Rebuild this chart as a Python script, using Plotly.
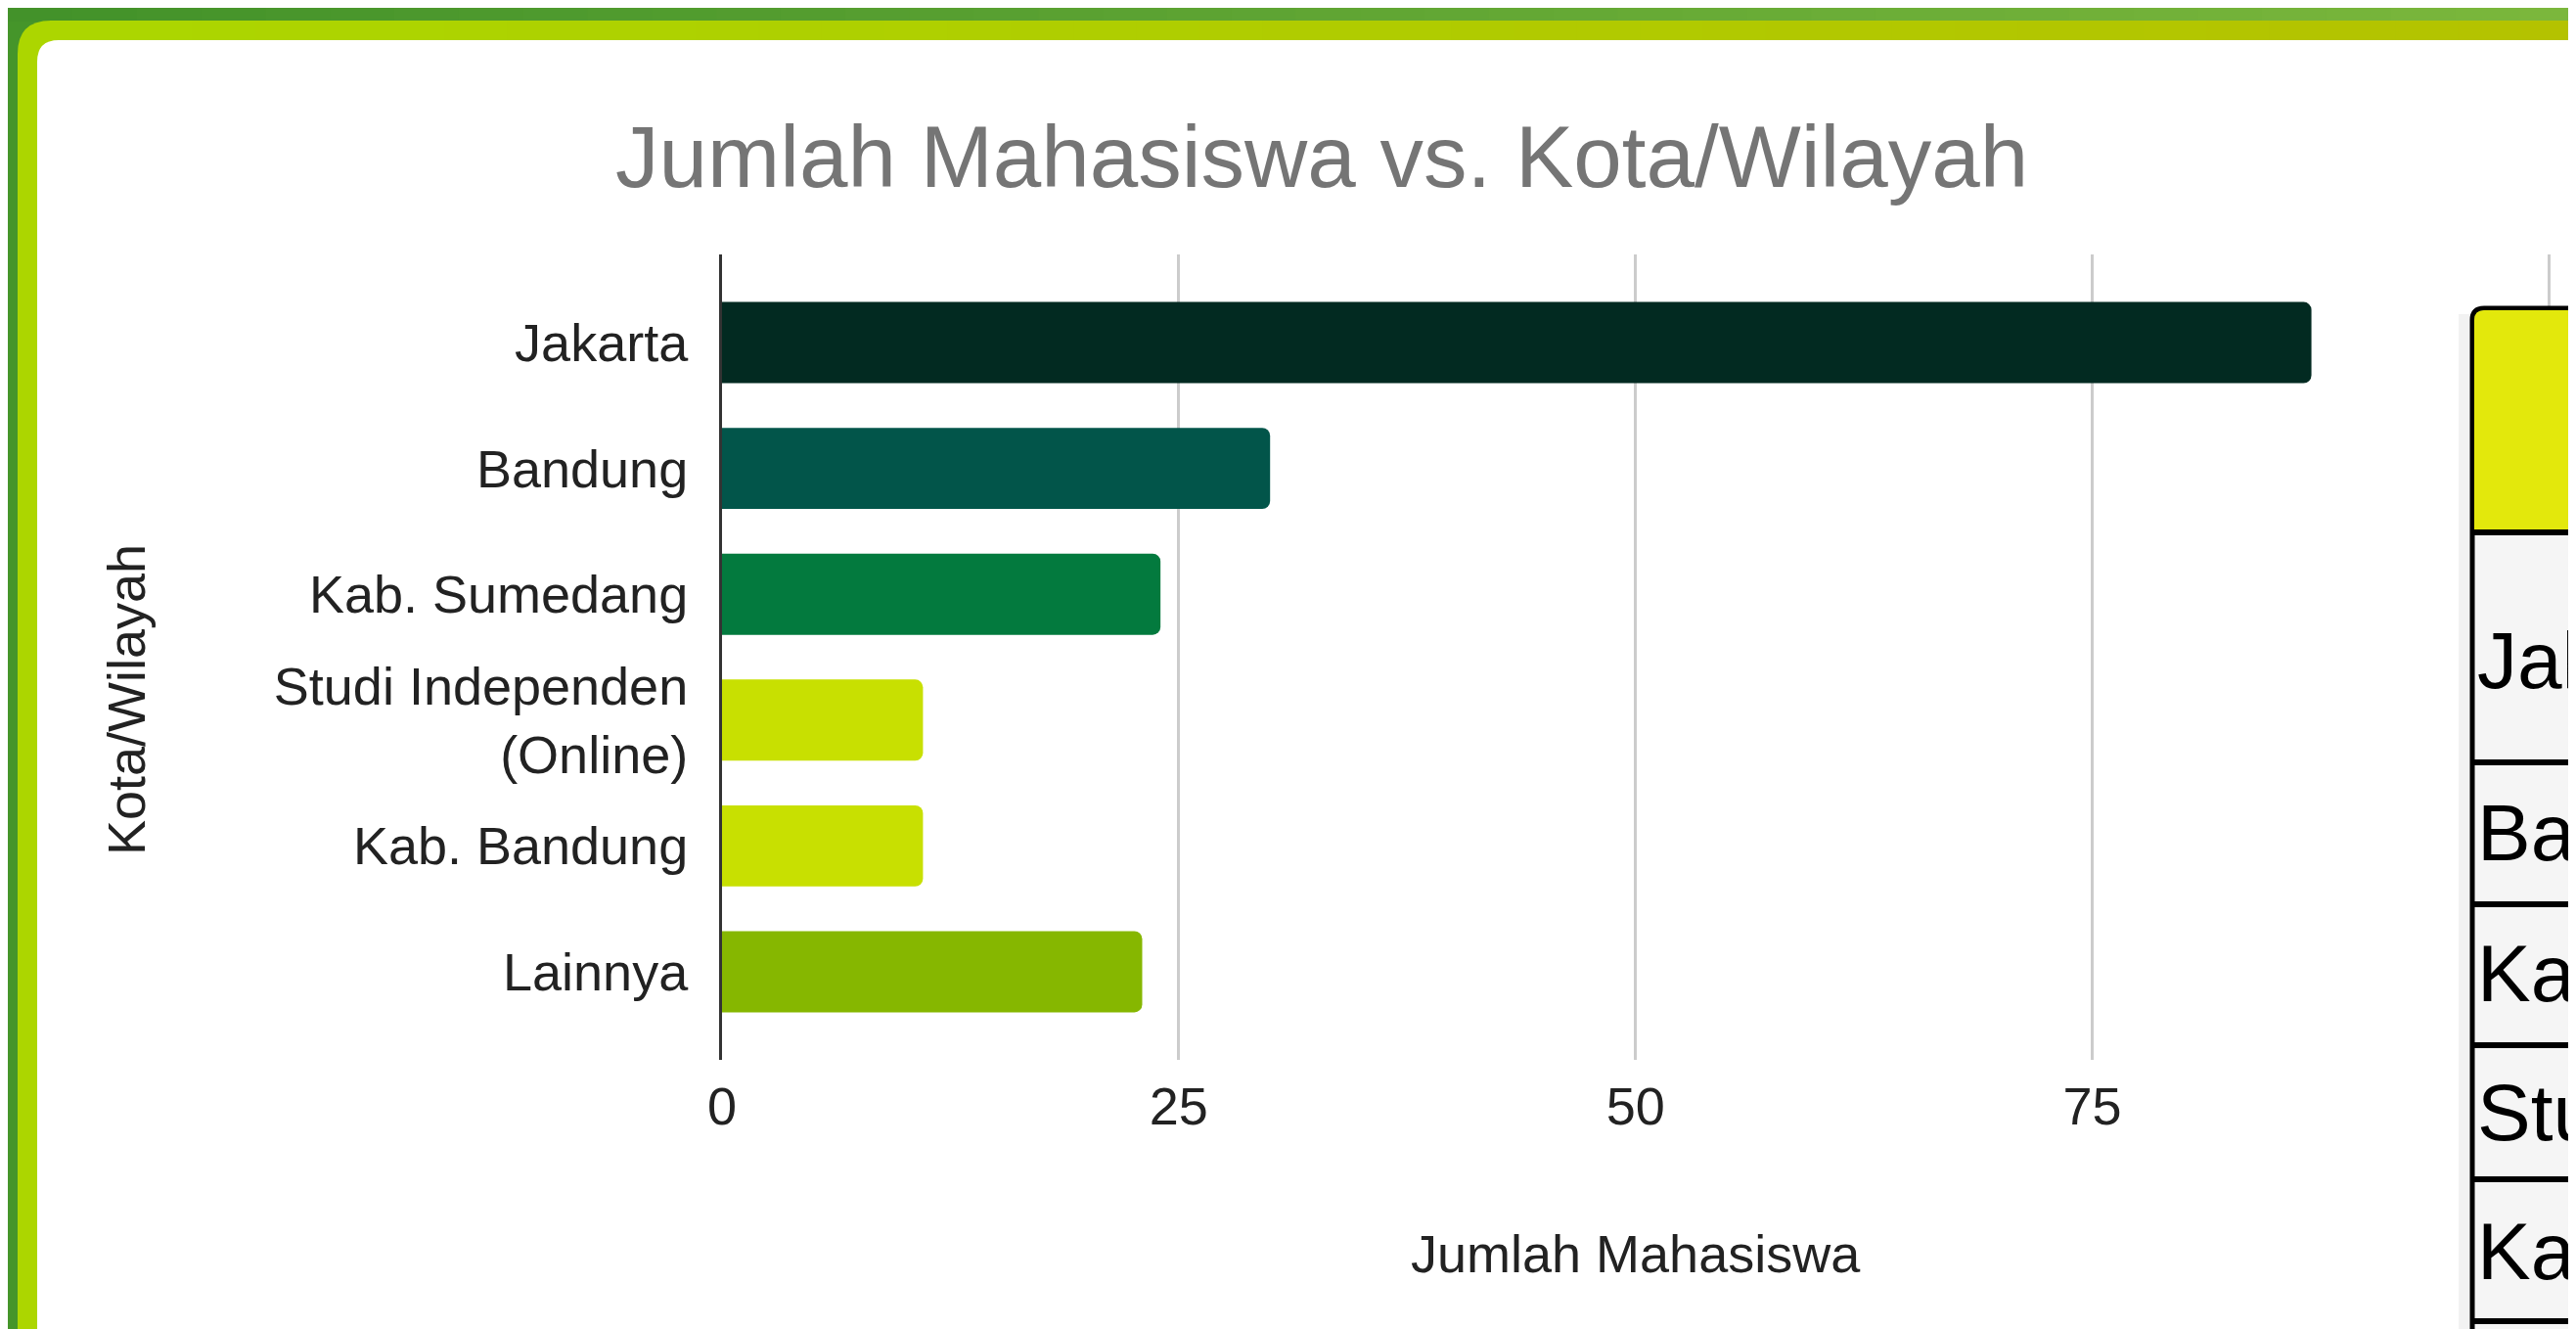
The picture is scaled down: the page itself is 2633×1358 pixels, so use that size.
import plotly.graph_objects as go

# data
cities = ["Jakarta", "Bandung", "Kab. Sumedang", "Studi Independen<br>(Online)", "Kab. Bandung", "Lainnya"]
students = [87, 30, 24, 11, 11, 23]
bar_colors = ["#022a21", "#02554a", "#037a3e", "#c8e001", "#c8e001", "#86b700"]
x_ticks = [0, 25, 50, 75, 100]
x_tick_labels = ["0", "25", "50", "75", ""]

# partially visible table at the right edge of the slide
table_rows = ["Jakarta", "Bandung", "Kab. Sumedang", "Studi Independen (Online)", "Kab. Bandung"]

W, H = 2633, 1358
L, R, T, B = 730, 17, 252, 283
PW, PH = W - L - R, H - T - B
FONT = "Liberation Sans, Arial, sans-serif"


def X(px):
    return (px - L) / PW


def Y(py):
    return (H - B - py) / PH


def mix(c1, c2, t):
    a = [int(c1[i:i + 2], 16) for i in (1, 3, 5)]
    b = [int(c2[i:i + 2], 16) for i in (1, 3, 5)]
    return "#%02x%02x%02x" % tuple(round(a[k] + (b[k] - a[k]) * t) for k in range(3))


def rounded(x0, y0, x1, y1, r):
    return (f"M {X(x0)},{Y(y1)} L {X(x0)},{Y(y0 + r)} Q {X(x0)},{Y(y0)} {X(x0 + r)},{Y(y0)} "
            f"L {X(x1)},{Y(y0)} L {X(x1)},{Y(y1)} Z")


def note(text, px, py, size, color, **kw):
    return dict(text=text, x=X(px), y=Y(py), xref="paper", yref="paper", showarrow=False,
                xanchor=kw.pop("xanchor", "center"), yanchor="middle",
                font=dict(family=FONT, size=size, color=color), **kw)


fig = go.Figure(go.Bar(
    x=students, y=cities, orientation="h",
    marker=dict(color=bar_colors, line=dict(width=0), cornerradius=8),
    hoverinfo="x+y",
))

shapes = []
# slide frame: green strip, lime band and white panel
steps = 40
for i in range(steps):
    x0, x1 = W * i / steps, W * (i + 1) / steps + 2
    shapes.append(dict(type="rect", xref="paper", yref="paper", layer="below",
                       x0=X(x0), x1=X(x1), y0=Y(-5), y1=Y(14), line_width=0,
                       fillcolor=mix("#43922a", "#7cb83c", i / steps)))
shapes.append(dict(type="path", xref="paper", yref="paper", layer="below",
                   path=rounded(10, 13, W + 60, H + 60, 34), fillcolor="#acd600", line_width=0))
for i in range(steps):
    x0, x1 = 60 + (W - 60) * i / steps, 60 + (W - 60) * (i + 1) / steps + 2
    shapes.append(dict(type="rect", xref="paper", yref="paper", layer="below",
                       x0=X(x0), x1=X(x1), y0=Y(13), y1=Y(33), line_width=0,
                       fillcolor=mix("#acd600", "#b4c200", i / steps)))
shapes.append(dict(type="path", xref="paper", yref="paper", layer="below",
                   path=rounded(30, 33, W + 60, H + 60, 22), fillcolor="#ffffff", line_width=0))

# table on the right
tx, ty = 2519, 307
shapes.append(dict(type="rect", xref="paper", yref="paper", layer="above",
                   x0=X(tx - 14), x1=X(tx), y0=Y(H + 20), y1=Y(ty + 6), line_width=0,
                   fillcolor="rgba(0,0,0,0.05)"))
shapes.append(dict(type="path", xref="paper", yref="paper", layer="above",
                   path=rounded(tx, ty, W + 60, H + 60, 12), fillcolor="#f5f5f5",
                   line=dict(color="#000000", width=5)))
shapes.append(dict(type="path", xref="paper", yref="paper", layer="above",
                   path=rounded(tx + 2, ty + 2, W + 60, 536, 10),
                   fillcolor="#e3e80c", line_width=0))
for ly in [536, 771, 916, 1060, 1197, 1342]:
    shapes.append(dict(type="line", xref="paper", yref="paper", layer="above",
                       x0=X(tx), x1=X(W + 10), y0=Y(ly), y1=Y(ly),
                       line=dict(color="#000000", width=6)))

annotations = [
    note("Jumlah Mahasiswa vs. Kota/Wilayah", 1343, 152, 89, "#757575"),
    note("Jumlah Mahasiswa", 1664, 1273, 54, "#222222"),
    note("Kota/Wilayah", 121, 707, 54, "#222222", textangle=-90),
]
for label, cy in zip(table_rows, [666, 842, 986, 1128, 1270]):
    annotations.append(note(label, 2522, cy, 82, "#000000", xanchor="left"))

fig.update_layout(
    width=W, height=H,
    margin=dict(l=L, r=R, t=T, b=B, pad=0),
    paper_bgcolor="#45952a", plot_bgcolor="rgba(0,0,0,0)",
    showlegend=False, bargap=0.355,
    shapes=shapes, annotations=annotations,
    font=dict(family=FONT, size=54, color="#222222"),
)
fig.update_xaxes(range=[0, 101], tickvals=x_ticks, ticktext=x_tick_labels,
                 showgrid=True, gridcolor="#cccccc", gridwidth=3, zeroline=False,
                 showline=False, ticks="", ticklabelstandoff=11,
                 tickfont=dict(family=FONT, size=54, color="#222222"))
fig.update_yaxes(range=[5.7, -0.7], showgrid=False, zeroline=False,
                 showline=True, linecolor="#333333", linewidth=3, ticks="",
                 ticklabelstandoff=21,
                 tickfont=dict(family=FONT, size=54, color="#222222"))

fig.write_html("out.html")
